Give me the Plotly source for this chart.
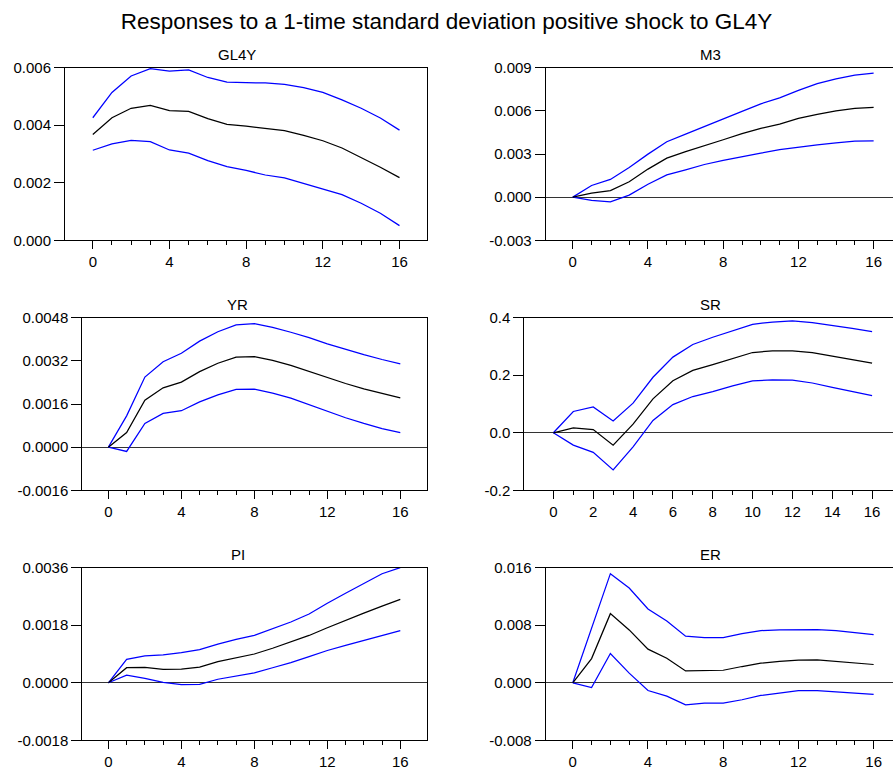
import plotly.graph_objects as go

# ---------------- DATA ----------------
steps = list(range(17))

gl4y_resp = [0.00368, 0.00426, 0.00459, 0.00469, 0.00451, 0.00448, 0.00423, 0.00403, 0.00397,
             0.00390, 0.00381, 0.00365, 0.00346, 0.00321, 0.00288, 0.00254, 0.00218]
gl4y_upper = [0.00426, 0.00514, 0.00571, 0.00597, 0.00588, 0.00592, 0.00566, 0.00550, 0.00548,
              0.00547, 0.00542, 0.00531, 0.00514, 0.00488, 0.00459, 0.00425, 0.00383]
gl4y_lower = [0.00313, 0.00335, 0.00347, 0.00343, 0.00314, 0.00303, 0.00277, 0.00256, 0.00243,
              0.00227, 0.00217, 0.00198, 0.00180, 0.00159, 0.00129, 0.00094, 0.00051]

m3_resp = [0.0, 0.00028, 0.00046, 0.00107, 0.00195, 0.00271, 0.00316, 0.00360, 0.00399,
           0.00441, 0.00478, 0.00508, 0.00548, 0.00575, 0.00599, 0.00617, 0.00624]
m3_upper = [0.0, 0.00081, 0.00123, 0.00206, 0.00299, 0.00385, 0.00438, 0.00489, 0.00540,
            0.00596, 0.00649, 0.00690, 0.00742, 0.00789, 0.00823, 0.00849, 0.00863]
m3_lower = [0.0, -0.00023, -0.00032, 0.00014, 0.00090, 0.00155, 0.00190, 0.00227, 0.00255,
            0.00283, 0.00306, 0.00330, 0.00348, 0.00364, 0.00378, 0.00390, 0.00391]

yr_resp = [0.0, 0.00054, 0.00174, 0.00220, 0.00241, 0.00280, 0.00311, 0.00334, 0.00336,
           0.00322, 0.00303, 0.00280, 0.00257, 0.00236, 0.00216, 0.00199, 0.00183]
yr_upper = [0.0, 0.00116, 0.00260, 0.00317, 0.00348, 0.00393, 0.00428, 0.00453, 0.00458,
            0.00444, 0.00426, 0.00406, 0.00383, 0.00362, 0.00343, 0.00325, 0.00309]
yr_lower = [0.0, -0.00016, 0.00088, 0.00125, 0.00135, 0.00168, 0.00194, 0.00214, 0.00215,
            0.00200, 0.00182, 0.00157, 0.00132, 0.00109, 0.00088, 0.00069, 0.00054]

sr_resp = [0.0, 0.017, 0.011, -0.043, 0.030, 0.118, 0.181, 0.217, 0.237,
           0.257, 0.279, 0.285, 0.285, 0.279, 0.267, 0.255, 0.242]
sr_upper = [0.0, 0.074, 0.090, 0.041, 0.103, 0.193, 0.263, 0.307, 0.332,
            0.355, 0.377, 0.385, 0.389, 0.383, 0.374, 0.363, 0.352]
sr_lower = [0.0, -0.043, -0.068, -0.129, -0.049, 0.043, 0.098, 0.126, 0.143,
            0.163, 0.180, 0.184, 0.183, 0.173, 0.158, 0.143, 0.129]

pi_resp = [0.0, 0.00047, 0.00048, 0.00042, 0.00043, 0.00049, 0.00066, 0.00079, 0.00090,
           0.00108, 0.00128, 0.00148, 0.00172, 0.00196, 0.00218, 0.00240, 0.00261]
pi_upper = [0.0, 0.00073, 0.00084, 0.00087, 0.00094, 0.00104, 0.00121, 0.00136, 0.00148,
            0.00168, 0.00190, 0.00215, 0.00249, 0.00280, 0.00311, 0.00341, 0.00360]
pi_lower = [0.0, 0.00024, 0.00014, 0.00001, -0.00006, -0.00005, 0.00011, 0.00020, 0.00031,
            0.00047, 0.00063, 0.00082, 0.00101, 0.00117, 0.00133, 0.00149, 0.00163]

er_resp = [0.0, 0.00336, 0.00961, 0.00735, 0.00467, 0.00342, 0.00165, 0.00169, 0.00174,
           0.00226, 0.00272, 0.00296, 0.00314, 0.00319, 0.00300, 0.00277, 0.00254]
er_upper = [0.0, 0.00758, 0.01517, 0.01318, 0.01027, 0.00860, 0.00648, 0.00629, 0.00629,
            0.00684, 0.00726, 0.00736, 0.00740, 0.00740, 0.00726, 0.00703, 0.00670]
er_lower = [0.0, -0.00067, 0.00407, 0.00134, -0.00108, -0.00185, -0.00307, -0.00284, -0.00284,
            -0.00236, -0.00176, -0.00139, -0.00108, -0.00108, -0.00125, -0.00148, -0.00162]

panel_names = ["GL4Y", "M3", "YR", "SR", "PI", "ER"]

gl4y_yticks = [0.0, 0.002, 0.004, 0.006]
gl4y_ylabels = ["0.000", "0.002", "0.004", "0.006"]
m3_yticks = [-0.003, 0.0, 0.003, 0.006, 0.009]
m3_ylabels = ["-0.003", "0.000", "0.003", "0.006", "0.009"]
yr_yticks = [-0.0016, 0.0, 0.0016, 0.0032, 0.0048]
yr_ylabels = ["-0.0016", "0.0000", "0.0016", "0.0032", "0.0048"]
sr_yticks = [-0.2, 0.0, 0.2, 0.4]
sr_ylabels = ["-0.2", "0.0", "0.2", "0.4"]
pi_yticks = [-0.0018, 0.0, 0.0018, 0.0036]
pi_ylabels = ["-0.0018", "0.0000", "0.0018", "0.0036"]
er_yticks = [-0.008, 0.0, 0.008, 0.016]
er_ylabels = ["-0.008", "0.000", "0.008", "0.016"]

x_ticks_4 = [0, 4, 8, 12, 16]
x_labels_4 = ["0", "4", "8", "12", "16"]
x_ticks_2 = [0, 2, 4, 6, 8, 10, 12, 14, 16]
x_labels_2 = ["0", "2", "4", "6", "8", "10", "12", "14", "16"]

title_text = "Responses to a 1-time standard deviation positive shock to GL4Y"

# ---------------- LAYOUT GEOMETRY (pixels) ----------------
W, H = 893, 770
FONT = "Liberation Sans, Arial, sans-serif"
BLUE = "#0000FF"
BLACK = "#000000"

panels = [
    dict(resp=gl4y_resp, up=gl4y_upper, lo=gl4y_lower, yt=gl4y_yticks, yl=gl4y_ylabels,
         xt=x_ticks_4, xl=x_labels_4, px=(65.0, 427.3), py=(67.7, 240.3), xr=(-1.45, 17.45), right=False, tx=237),
    dict(resp=m3_resp, up=m3_upper, lo=m3_lower, yt=m3_yticks, yl=m3_ylabels,
         xt=x_ticks_4, xl=x_labels_4, px=(545.7, 893.0), py=(67.7, 240.3), xr=(-1.44, 17.03), right=True, tx=710.5),
    dict(resp=yr_resp, up=yr_upper, lo=yr_lower, yt=yr_yticks, yl=yr_ylabels,
         xt=x_ticks_4, xl=x_labels_4, px=(82.3, 427.3), py=(317.7, 490.3), xr=(-1.43, 17.48), right=False, tx=237.5),
    dict(resp=sr_resp, up=sr_upper, lo=sr_lower, yt=sr_yticks, yl=sr_ylabels,
         xt=x_ticks_2, xl=x_labels_2, px=(524.3, 893.0), py=(317.7, 490.3), xr=(-1.46, 17.05), right=True, tx=710.5),
    dict(resp=pi_resp, up=pi_upper, lo=pi_lower, yt=pi_yticks, yl=pi_ylabels,
         xt=x_ticks_4, xl=x_labels_4, px=(82.3, 427.3), py=(567.7, 740.3), xr=(-1.43, 17.48), right=False, tx=237.5),
    dict(resp=er_resp, up=er_upper, lo=er_lower, yt=er_yticks, yl=er_ylabels,
         xt=x_ticks_4, xl=x_labels_4, px=(545.7, 893.0), py=(567.7, 740.3), xr=(-1.44, 17.03), right=True, tx=710.5),
]

fig = go.Figure()
annotations = []
layout_axes = {}

for i, (name, p) in enumerate(zip(panel_names, panels), start=1):
    xa = "x" if i == 1 else f"x{i}"
    ya = "y" if i == 1 else f"y{i}"
    for series, color in ((p["up"], BLUE), (p["lo"], BLUE), (p["resp"], BLACK)):
        fig.add_trace(go.Scatter(x=steps, y=series, mode="lines", xaxis=xa, yaxis=ya,
                                 line=dict(color=color, width=1.25), showlegend=False,
                                 hoverinfo="skip"))
    xdom = [p["px"][0] / W, min(p["px"][1] / W, 1.0)]
    ydom = [1 - p["py"][1] / H, 1 - p["py"][0] / H]
    layout_axes["xaxis" if i == 1 else f"xaxis{i}"] = dict(
        domain=xdom, range=list(p["xr"]), anchor=ya, automargin=False,
        showline=True, linecolor=BLACK, linewidth=1, mirror=True,
        ticks="outside", ticklen=8, tickwidth=1, tickcolor=BLACK,
        tickmode="array", tickvals=p["xt"], ticktext=p["xl"],
        minor=dict(tickmode="array", tickvals=steps, ticks="outside", ticklen=4,
                   tickwidth=1, tickcolor=BLACK, showgrid=False),
        showgrid=False, zeroline=False,
        tickfont=dict(family=FONT, size=15, color=BLACK), fixedrange=True,
    )
    ymin, ymax = p["yt"][0], p["yt"][-1]
    layout_axes["yaxis" if i == 1 else f"yaxis{i}"] = dict(
        domain=ydom, range=[ymin, ymax], anchor=xa, automargin=False,
        showline=True, linecolor=BLACK, linewidth=1, mirror=(not p["right"]),
        ticks="outside", ticklen=10, tickwidth=1, tickcolor=BLACK,
        tickmode="array", tickvals=p["yt"], ticktext=p["yl"],
        showgrid=False, zeroline=True, zerolinecolor="#333333", zerolinewidth=1.2,
        tickfont=dict(family=FONT, size=15, color=BLACK), fixedrange=True,
    )
    annotations.append(dict(text=name, x=p["tx"] / W, y=1 - (p["py"][0] - 13) / H,
                            xref="paper", yref="paper", xanchor="center", yanchor="middle",
                            showarrow=False, font=dict(family=FONT, size=15, color=BLACK)))

fig.update_layout(
    template="none",
    width=W, height=H, autosize=False,
    margin=dict(l=0, r=0, t=0, b=0, pad=0, autoexpand=False),
    paper_bgcolor="white", plot_bgcolor="white",
    font=dict(family=FONT, color=BLACK),
    title=dict(text=title_text, x=0.5, xanchor="center", y=1 - 21 / H, yanchor="middle",
               font=dict(family=FONT, size=22.5, color=BLACK), automargin=False),
    annotations=annotations,
    showlegend=False,
    **layout_axes,
)

fig.write_html(
    "out.html",
    config={"displayModeBar": False, "responsive": False},
    post_script="document.body.style.margin='0';document.body.style.padding='0';"
                "document.body.style.overflow='hidden';",
)
